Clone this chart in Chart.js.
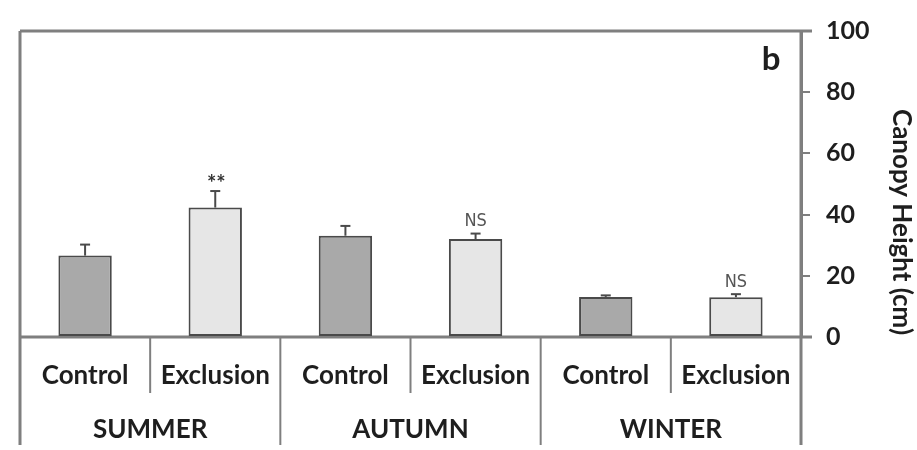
<!DOCTYPE html>
<html><head><meta charset="utf-8">
<script src="https://cdn.jsdelivr.net/npm/chart.js@4.4.1/dist/chart.umd.min.js"></script>
<style>html,body{margin:0;padding:0;background:#fff}#wrap{width:917px;height:450px;position:relative}</style>
</head><body><div id="wrap"><canvas id="c" width="917" height="450"></canvas></div>
<script>
const treatments = ['Control','Exclusion','Control','Exclusion','Control','Exclusion'];
const seasons = ['SUMMER','AUTUMN','WINTER'];
const heights = [26.6, 42.3, 33.1, 32.0, 13.1, 13.0];
const errors = [3.6, 5.4, 3.2, 1.8, 0.5, 1.0];
const signif = ['', '**', '', 'NS', '', 'NS'];
const yTicks = [0, 20, 40, 60, 80, 100];
const panelLetter = 'b';
const yTitle = 'Canopy Height (cm)';

const CONTROL_FILL = '#a9a9a9', EXCL_FILL = '#e6e6e6';
const AXIS = '#7f7f7f', TEXT = '#1e1e1e';
const FONT = 'Lato, "Open Sans", sans-serif';

const deco = {
  id: 'deco',
  beforeDatasetsDraw(chart) {
    const {ctx, chartArea: a, scales: {x, y}} = chart;
    const y0 = y.getPixelForValue(0);
    ctx.save();
    ctx.strokeStyle = AXIS; ctx.lineWidth = 3; ctx.lineCap = 'butt';
    ctx.beginPath(); ctx.moveTo(a.left, a.top); ctx.lineTo(a.right + 11, a.top); ctx.stroke();
    ctx.beginPath(); ctx.moveTo(a.left, a.top); ctx.lineTo(a.left, 445); ctx.stroke();
    ctx.beginPath(); ctx.moveTo(a.left, y0); ctx.lineTo(a.right + 11, y0); ctx.stroke();
    ctx.beginPath(); ctx.moveTo(a.right, a.top); ctx.lineTo(a.right, 445); ctx.stroke();
    ctx.lineWidth = 2;
    for (let i = 0; i < treatments.length - 1; i++) {
      const xm = (x.getPixelForValue(i) + x.getPixelForValue(i + 1)) / 2;
      const bottom = (i % 2 === 1) ? 445 : 393;
      ctx.beginPath(); ctx.moveTo(xm, y0); ctx.lineTo(xm, bottom); ctx.stroke();
    }
    ctx.restore();
  },
  afterDatasetsDraw(chart) {
    const {ctx, chartArea: a, scales: {x, y}} = chart;
    ctx.save();
    ctx.strokeStyle = '#4a4a4a'; ctx.lineWidth = 2;
    heights.forEach((v, i) => {
      const px = x.getPixelForValue(i);
      const top = y.getPixelForValue(v + errors[i]);
      const base = y.getPixelForValue(v);
      ctx.beginPath(); ctx.moveTo(px, base); ctx.lineTo(px, top); ctx.stroke();
      ctx.beginPath(); ctx.moveTo(px - 5, top); ctx.lineTo(px + 5, top); ctx.stroke();
    });
    ctx.textAlign = 'center'; ctx.textBaseline = 'bottom';
    signif.forEach((s, i) => {
      if (!s) return;
      const px = x.getPixelForValue(i);
      const top = y.getPixelForValue(heights[i] + errors[i]);
      if (s === '**') {
        ctx.fillStyle = '#333'; ctx.font = 'bold 22px ' + FONT;
        ctx.fillText(s, px + 1, top + 4);
      } else {
        ctx.fillStyle = '#555'; ctx.font = '18px "Liberation Sans Narrow", "DejaVu Sans Condensed", sans-serif';
        ctx.fillText(s, px, top - 3);
      }
    });
    ctx.fillStyle = TEXT; ctx.font = 'bold 26px ' + FONT; ctx.textBaseline = 'middle';
    seasons.forEach((s, g) => {
      const cx = (x.getPixelForValue(2 * g) + x.getPixelForValue(2 * g + 1)) / 2;
      ctx.fillText(s, cx, 430);
    });
    ctx.font = 'bold 33px ' + FONT;
    ctx.fillText(panelLetter, a.right - 30, 59);
    ctx.translate(901, 222); ctx.rotate(Math.PI / 2);
    ctx.font = 'bold 26px ' + FONT;
    ctx.fillText(yTitle, 0, 0);
    ctx.restore();
  }
};

new Chart(document.getElementById('c'), {
  type: 'bar',
  data: {
    labels: treatments,
    datasets: [{
      data: heights,
      backgroundColor: treatments.map(t => t === 'Control' ? CONTROL_FILL : EXCL_FILL),
      borderColor: '#4a4a4a',
      borderWidth: 2,
      borderSkipped: false,
      categoryPercentage: 1,
      barPercentage: 0.41
    }]
  },
  options: {
    responsive: false,
    animation: false,
    devicePixelRatio: 1,
    layout: {padding: {left: 20, top: 29, right: 0, bottom: 0}},
    plugins: {legend: {display: false}, tooltip: {enabled: false}},
    scales: {
      x: {
        grid: {display: false, drawTicks: false},
        border: {display: false},
        ticks: {font: {family: FONT, weight: 'bold', size: 26}, color: TEXT, padding: 23, maxRotation: 0, autoSkip: false},
        afterFit: s => { s.height = 113; }
      },
      y: {
        position: 'right',
        min: 0, max: 100,
        afterBuildTicks: s => { s.ticks = yTicks.map(v => ({value: v})); },
        ticks: {font: {family: FONT, weight: 'bold', size: 25}, color: TEXT, padding: 16},
        grid: {drawOnChartArea: false, drawTicks: true, tickLength: 9, color: AXIS, lineWidth: 2},
        border: {display: true, color: AXIS, width: 3},
        afterFit: s => { s.width = 116; }
      }
    }
  },
  plugins: [deco]
});
</script></body></html>
